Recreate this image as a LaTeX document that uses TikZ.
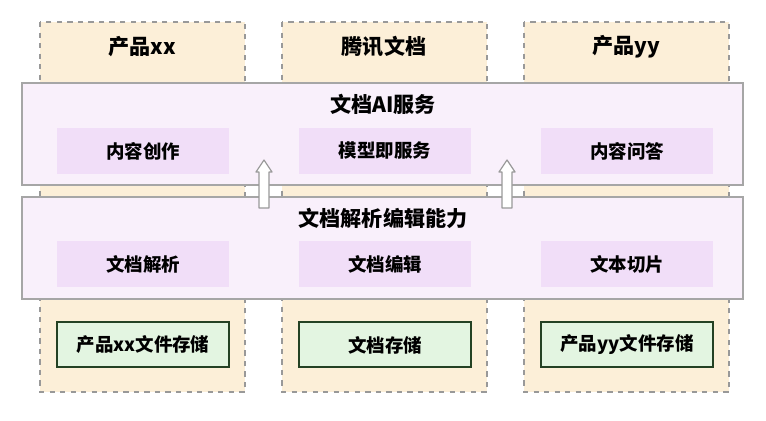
\documentclass[tikz,border=0pt]{standalone}
\usepackage{fontspec}
\newfontfamily\cjk{Noto Sans CJK SC}
\definecolor{peach}{HTML}{FCEFD8}
\definecolor{lav}{HTML}{F9F0FB}
\definecolor{inner}{HTML}{F1DEF8}
\definecolor{grn}{HTML}{E3F5E1}
\begin{document}
\begin{tikzpicture}[x=0.02cm,y=-0.02cm,
 col/.style={draw=gray!80,dashed,fill=peach,line width=0.6pt},
 big/.style={draw=gray!70,fill=lav,line width=0.8pt},
 inb/.style={fill=inner,draw=none},
 gb/.style={fill=grn,draw=gray!70!green!40!black,line width=0.6pt},
 lab/.style={font=\cjk\bfseries\fontsize{10.5}{13}\selectfont},
 tit/.style={font=\cjk\bfseries\fontsize{12}{14}\selectfont},
 up/.style={draw=gray!80,fill=white,line width=0.7pt,line join=round}]
\useasboundingbox (0,0) rectangle (766,421);
\foreach \x/\n/\t in {40/c1/产品xx,282/c2/腾讯文档,524/c3/产品yy}{
 \draw[col] (\x,22) rectangle (\x+205,392);
 \node[tit] (\n) at (\x+102,47) {\t};}
\draw[big] (22,83) rectangle (743,185);
\node[tit] (t1) at (383,104) {文档AI服务};
\draw[big] (22,197) rectangle (743,299);
\node[tit] (t2) at (383,218) {文档解析编辑能力};
\foreach \x/\n/\a/\b/\c in {57/a/内容创作/文档解析/产品xx文件存储,299/b/模型即服务/文档编辑/文档存储,541/c/内容问答/文本切片/产品yy文件存储}{
 \fill[inb] (\x,128) rectangle (\x+172,174);
 \node[lab] (\n1) at (\x+86,151) {\a};
 \fill[inb] (\x,241) rectangle (\x+172,287);
 \node[lab] (\n2) at (\x+86,264) {\b};
 \draw[gb] (\x,322) rectangle (\x+172,367);
 \node[lab] (\n3) at (\x+86,345) {\c};}
\foreach \cx in {264,507}{
 \draw[up] (\cx-5,208) -- (\cx-5,172) -- (\cx-8,172) -- (\cx,160) -- (\cx+8,172) -- (\cx+5,172) -- (\cx+5,208) -- cycle;}
\end{tikzpicture}
\end{document}
